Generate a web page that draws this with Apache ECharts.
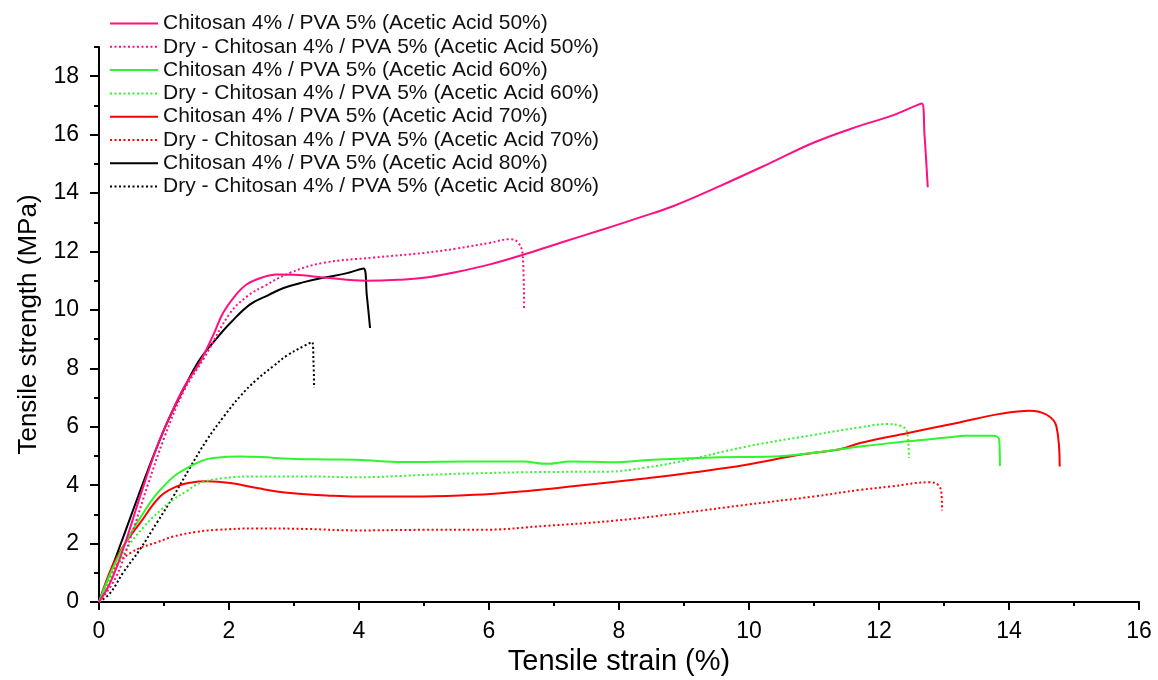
<!DOCTYPE html>
<html>
<head>
<meta charset="utf-8">
<script src="https://cdn.jsdelivr.net/npm/echarts@6/dist/echarts.min.js"></script>
<style>
  html, body { margin:0; padding:0; background:#fff; }
  #chart { width:1158px; height:680px; }
</style>
</head>
<body>
<div id="chart"></div>
<script>
// ===== data (strain %, strength MPa) =====
const xTicks = [0, 2, 4, 6, 8, 10, 12, 14, 16];
const yTicks = [0, 2, 4, 6, 8, 10, 12, 14, 16, 18];

const names = [
  'Chitosan 4% / PVA 5% (Acetic Acid 50%)',
  'Dry - Chitosan 4% / PVA 5% (Acetic Acid 50%)',
  'Chitosan 4% / PVA 5% (Acetic Acid 60%)',
  'Dry - Chitosan 4% / PVA 5% (Acetic Acid 60%)',
  'Chitosan 4% / PVA 5% (Acetic Acid 70%)',
  'Dry - Chitosan 4% / PVA 5% (Acetic Acid 70%)',
  'Chitosan 4% / PVA 5% (Acetic Acid 80%)',
  'Dry - Chitosan 4% / PVA 5% (Acetic Acid 80%)'
];

const wet50 = [[0,0],[0.17,0.65],[0.37,1.8],[0.63,3.6],[0.89,5.3],[1.1,6.4],[1.32,7.4],[1.55,8.2],[1.75,9.1],
  [1.91,9.9],[2.1,10.5],[2.27,10.87],[2.5,11.1],[2.73,11.21],[3.0,11.2],[3.5,11.1],[4.1,11.0],[4.6,11.03],
  [5.0,11.1],[5.5,11.3],[6.0,11.55],[6.5,11.87],[7.1,12.3],[7.75,12.75],[8.3,13.15],[8.83,13.55],[9.55,14.24],
  [10.3,15.0],[11.0,15.73],[11.7,16.3],[12.2,16.65],[12.66,17.07],[12.7,16.0],[12.75,14.2]];
const dry50 = [[0,0],[0.25,0.8],[0.5,2.3],[0.75,4.0],[1.0,5.6],[1.3,7.2],[1.63,8.4],[2.02,9.9],[2.3,10.5],
  [2.53,10.8],[2.94,11.27],[3.45,11.61],[4.22,11.79],[5.0,11.95],[5.5,12.1],[6.02,12.3],[6.32,12.42],
  [6.45,12.3],[6.52,11.84],[6.54,10.0]];
const wet60 = [[0,0],[0.2,1.1],[0.45,2.2],[0.68,3.04],[0.85,3.6],[1.04,4.07],[1.2,4.38],[1.4,4.64],[1.6,4.85],
  [1.76,4.93],[2.17,4.98],[2.5,4.96],[2.94,4.9],[3.5,4.88],[3.96,4.87],[4.68,4.79],[5.3,4.8],[6.02,4.81],
  [6.52,4.81],[6.89,4.73],[7.25,4.81],[7.6,4.8],[7.91,4.78],[8.52,4.87],[9.45,4.95],[10.37,4.98],[10.9,5.08],
  [11.4,5.23],[11.71,5.32],[12.43,5.5],[13.0,5.62],[13.35,5.69],[13.76,5.69],[13.85,5.55],[13.86,4.66]];
const dry60 = [[0,0],[0.2,0.9],[0.45,1.9],[0.7,2.6],[0.95,3.15],[1.14,3.5],[1.35,3.8],[1.55,4.07],[1.91,4.24],
  [2.43,4.3],[3.2,4.3],[3.96,4.27],[5.0,4.35],[5.86,4.41],[6.8,4.45],[7.81,4.46],[8.4,4.6],[8.94,4.81],
  [9.96,5.32],[10.99,5.72],[11.71,5.98],[12.12,6.09],[12.32,6.04],[12.43,5.84],[12.46,4.93]];
const wet70 = [[0,0],[0.2,1.2],[0.4,2.0],[0.63,2.7],[0.94,3.61],[1.19,3.95],[1.4,4.08],[1.66,4.13],[2.02,4.07],
  [2.43,3.9],[2.94,3.73],[3.5,3.65],[3.96,3.61],[4.99,3.61],[6.02,3.7],[6.6,3.8],[7.25,3.95],[8.43,4.24],
  [9.2,4.45],[9.96,4.7],[10.8,5.05],[11.4,5.23],[11.71,5.44],[12.43,5.78],[13.2,6.13],[13.86,6.44],
  [14.32,6.55],[14.58,6.41],[14.73,6.01],[14.78,4.64]];
const dry70 = [[0,0],[0.15,0.8],[0.3,1.35],[0.5,1.7],[0.63,1.85],[0.9,2.05],[1.14,2.24],[1.5,2.4],[1.81,2.47],
  [2.43,2.52],[3.2,2.5],[3.96,2.45],[5.0,2.47],[5.86,2.47],[6.89,2.61],[7.91,2.78],[8.94,3.04],[9.96,3.33],
  [10.99,3.61],[11.71,3.84],[12.17,3.95],[12.78,4.1],[12.91,4.01],[12.96,3.73],[12.97,3.13]];
const wet80 = [[0,0],[0.27,1.6],[0.5,3.0],[0.75,4.5],[1.04,6.1],[1.32,7.37],[1.55,8.3],[1.8,9.0],[2.02,9.55],
  [2.32,10.18],[2.6,10.5],[2.84,10.75],[3.15,10.95],[3.45,11.1],[3.8,11.25],[4.07,11.42],[4.12,10.5],[4.17,9.38]];
const dry80 = [[0,0],[0.17,0.3],[0.37,1.0],[0.63,1.8],[0.9,2.75],[1.14,3.6],[1.4,4.6],[1.66,5.55],[1.92,6.35],
  [2.17,7.04],[2.42,7.6],[2.68,8.07],[2.9,8.45],[3.14,8.75],[3.28,8.9],[3.3,8.2],[3.31,7.33]];

const seriesData = [wet50, dry50, wet60, dry60, wet70, dry70, wet80, dry80];
const colors = ['#ff0f80', '#ff0f80', '#2ef52e', '#2ef52e', '#ff0000', '#ff0000', '#000000', '#000000'];

const FONT = '"Liberation Sans", Arial, sans-serif';

const chart = echarts.init(document.getElementById('chart'), null, { renderer: 'canvas' });

const series = seriesData.map((d, i) => {
  const dry = i % 2 === 1;
  return {
    name: names[i],
    type: 'line',
    data: d,
    symbol: 'none',
    smooth: 0.4,
    color: colors[i],
    lineStyle: { color: colors[i], width: 2, type: dry ? [2, 2.5] : 'solid' },
    z: 10 - i
  };
});

chart.setOption({
  animation: false,
  backgroundColor: '#fff',
  grid: { left: 99, right: 19, top: 47, bottom: 78, outerBoundsMode: 'none' },
  legend: {
    orient: 'vertical',
    left: 109, top: 13, padding: 0,
    itemWidth: 48, itemHeight: 14, itemGap: 2.3,
    data: names,
    itemStyle: { opacity: 0 },   // line sample only, no symbol
    textStyle: { fontFamily: FONT, fontSize: 21, color: '#111', lineHeight: 20 }
  },
  xAxis: {
    type: 'value', min: 0, max: 16, interval: 2,
    name: 'Tensile strain (%)', nameLocation: 'middle', nameGap: 43,
    nameTextStyle: { fontFamily: FONT, fontSize: 29, color: '#000' },
    axisLine: { lineStyle: { color: '#000', width: 2 } },
    axisTick: { length: 8, lineStyle: { color: '#000', width: 2 } },
    minorTick: { show: true, splitNumber: 2, length: 4, lineStyle: { color: '#000', width: 2 } },
    axisLabel: { fontFamily: FONT, fontSize: 23, color: '#000', margin: 18, customValues: xTicks },
    splitLine: { show: false }
  },
  yAxis: [{
    type: 'value', min: 0, max: 19, interval: 2,
    name: 'Tensile strength (MPa)', nameLocation: 'middle', nameGap: 57,
    nameTextStyle: { fontFamily: FONT, fontSize: 26, color: '#000' },
    axisLine: { show: true, lineStyle: { color: '#000', width: 2 } },
    axisTick: { length: 9, customValues: yTicks, lineStyle: { color: '#000', width: 2 } },
    axisLabel: { fontFamily: FONT, fontSize: 23, color: '#000', margin: 20, customValues: yTicks },
    splitLine: { show: false }
  }, {
    // minor ticks every 1 MPa, up to the axis top
    type: 'value', min: 0, max: 19, interval: 1, position: 'left',
    axisLine: { show: false },
    axisTick: { length: 5, lineStyle: { color: '#000', width: 2 } },
    axisLabel: { show: false },
    splitLine: { show: false }
  }],
  series
});
</script>
</body>
</html>
